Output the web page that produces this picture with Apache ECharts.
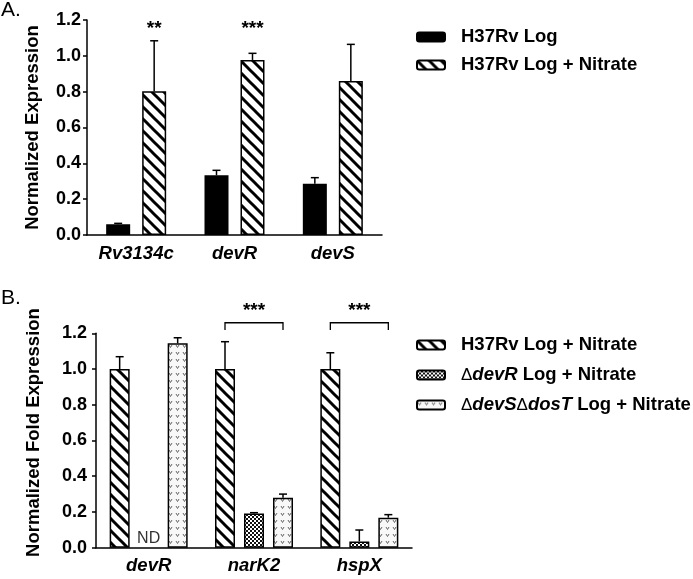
<!DOCTYPE html>
<html><head><meta charset="utf-8">
<script src="https://cdn.jsdelivr.net/npm/echarts@6/dist/echarts.min.js"></script>
<style>html,body{margin:0;padding:0;background:#fff}#c{width:693px;height:579px}</style>
</head><body><div id="c"></div>
<script>
// ---- Data ----
const catsA = ['Rv3134c', 'devR', 'devS'];
const logA = [0.06, 0.333, 0.286];
const logErrA = [0.065, 0.361, 0.32];
const nitA = [0.803, 0.977, 0.859];
const nitErrA = [1.084, 1.014, 1.064];
const sigA = ['**', '***', ''];

const catsB = ['devR', 'narK2', 'hspX'];
const wtB = [1.0, 1.0, 1.0];
const wtErrB = [1.069, 1.153, 1.091];
const devRB = [null, 0.192, 0.035];
const devRErrB = [null, 0.196, 0.099];
const devSdosTB = [1.144, 0.28, 0.168];
const devSdosTErrB = [1.175, 0.30, 0.185];
const sigB = ['', '***', '***'];

const FONT = '"Liberation Sans", Arial, sans-serif';

// ---- patterns ----
function mk(s){const c=document.createElement('canvas');c.width=s;c.height=s;return c;}
function hatch(){const s=12,c=mk(s),x=c.getContext('2d');x.fillStyle='#fff';x.fillRect(0,0,s,s);
  x.strokeStyle='#000';x.lineWidth=3;x.lineCap='square';
  for(const k of [-1,0,1]){x.beginPath();x.moveTo(k*s,0);x.lineTo(k*s+s,s);x.stroke();}
  return {image:c,repeat:'repeat'};}
function checker(){const s=4,c=mk(s),x=c.getContext('2d');x.fillStyle='#fff';x.fillRect(0,0,s,s);
  x.fillStyle='#111';x.fillRect(0,0,2,2);x.fillRect(2,2,2,2);return {image:c,repeat:'repeat'};}
function dots(){const s=7,c=mk(s),x=c.getContext('2d');x.fillStyle='#f8f8f8';x.fillRect(0,0,s,s);
  x.strokeStyle='#666';x.lineWidth=1;x.beginPath();x.moveTo(1,2);x.lineTo(2.5,4.5);x.lineTo(4,2);x.stroke();
  return {image:c,repeat:'repeat'};}
const HATCH=hatch(), CHECK=checker(), DOTS=dots();

const chart = echarts.init(document.getElementById('c'), null, {renderer:'canvas'});

function errSeries(name, gridIdx, vals, errs, offset){
  return {
    type:'custom', name:name+'_err', xAxisIndex:gridIdx, yAxisIndex:gridIdx, silent:true, z:5,
    data: vals.map((v,i)=> (v==null||errs[i]==null)? null : [i, v, errs[i]]).filter(d=>d),
    renderItem:(p,api)=>{
      const b=api.coord([api.value(0),api.value(1)]);
      const t=api.coord([api.value(0),api.value(2)]);
      const x=b[0]+offset;
      return {type:'group',children:[
        {type:'line',shape:{x1:x,y1:b[1],x2:x,y2:t[1]},style:{stroke:'#000',lineWidth:1.5}},
        {type:'line',shape:{x1:x-4,y1:t[1],x2:x+4,y2:t[1]},style:{stroke:'#000',lineWidth:1.5}}
      ]};
    }
  };
}

const axisLineStyle={lineStyle:{color:'#000',width:1.5}};
function yAxis(gridIdx, name, gap, margin, pad){
  return {type:'value', gridIndex:gridIdx, min:0, max:1.2, interval:0.2,
    name:name, nameLocation:'middle', nameGap:gap, nameRotate:90,
    nameTextStyle:{fontFamily:FONT, fontWeight:'bold', fontSize:18.5, color:'#000', padding:pad},
    axisLine:{show:true, ...axisLineStyle}, axisTick:{show:true,length:4,lineStyle:{color:'#000',width:1.5}},
    splitLine:{show:false},
    axisLabel:{margin:margin, fontFamily:FONT, fontWeight:'bold', fontSize:18, color:'#000',
      formatter:v=>v.toFixed(1)}};
}
function xAxis(gridIdx, cats){
  return {type:'category', gridIndex:gridIdx, data:cats,
    axisLine:{show:true,...axisLineStyle}, axisTick:{show:false},
    axisLabel:{margin:9, fontFamily:FONT, fontWeight:'bold', fontStyle:'italic', fontSize:18.5, color:'#000'}};
}

const sigStyle={fontFamily:FONT, fontWeight:'bold', fontSize:19, fill:'#000', align:'center', verticalAlign:'middle'};
const legendText={fontFamily:FONT, fontWeight:'bold', fontSize:18.5, color:'#000', lineHeight:20, padding:[0,0,0,11]};

const option = {
  animation:false,
  backgroundColor:'#fff',
  textStyle:{fontFamily:FONT},
  grid:[
    {left:87, right:311, top:20, bottom:344},
    {left:96, right:281, top:333.3, bottom:31.3}
  ],
  xAxis:[xAxis(0,catsA), xAxis(1,catsB)],
  yAxis:[yAxis(0,'Normalized Expression',45,6,[0,0,0,0]), yAxis(1,'Normalized Fold Expression',53,9,[0,0,0,16])],
  legend:[
    {left:411, top:22, orient:'vertical', itemWidth:28, itemHeight:9, itemGap:8,
      data:['H37Rv Log','H37Rv Log + Nitrate'], selectedMode:false, textStyle:legendText},
    {left:411, top:330, orient:'vertical', itemWidth:28, itemHeight:9, itemGap:10,
      data:['H37Rv Log + Nitrate ','ΔdevR Log + Nitrate','ΔdevSΔdosT Log + Nitrate'], selectedMode:false,
      formatter:n=>{
        if(n==='ΔdevR Log + Nitrate') return '{d|Δ}{i|devR} Log + Nitrate';
        if(n==='ΔdevSΔdosT Log + Nitrate') return '{d|Δ}{i|devS}{d|Δ}{i|dosT} Log + Nitrate';
        return n;
      },
      textStyle:{...legendText,
        rich:{i:{fontFamily:FONT, fontWeight:'bold', fontStyle:'italic', fontSize:18.5, color:'#000'},
              d:{fontFamily:FONT, fontWeight:'normal', fontSize:17, color:'#000'}}}}
  ],
  series:[
    {type:'bar', name:'H37Rv Log', xAxisIndex:0, yAxisIndex:0, data:logA, barWidth:24, barGap:'50%',
      itemStyle:{color:'#000', borderColor:'#000', borderWidth:1.5}},
    {type:'bar', name:'H37Rv Log + Nitrate', xAxisIndex:0, yAxisIndex:0, data:nitA, barWidth:24, barGap:'50%',
      itemStyle:{color:HATCH, borderColor:'#000', borderWidth:1.5}},
    errSeries('A0',0,logA,logErrA,-18),
    errSeries('A1',0,nitA,nitErrA,18),
    {type:'custom', name:'sigA', xAxisIndex:0, yAxisIndex:0, silent:true,
      data:sigA.map((s,i)=>[i,1.15,s]).filter(d=>d[2]),
      renderItem:(p,api)=>{const c=api.coord([api.value(0),api.value(1)]);
        return {type:'text',x:c[0]+18,y:c[1],style:{...sigStyle,text:sigA[api.value(0)]}};}},

    {type:'bar', name:'H37Rv Log + Nitrate ', xAxisIndex:1, yAxisIndex:1, data:wtB, barWidth:20, barGap:'45%',
      itemStyle:{color:HATCH, borderColor:'#000', borderWidth:1.5}},
    {type:'bar', name:'ΔdevR Log + Nitrate', xAxisIndex:1, yAxisIndex:1, barWidth:20, barGap:'45%',
      data:devRB.map(v=> v==null ? {value:0, itemStyle:{color:'transparent',borderWidth:0},
        label:{show:true, formatter:'ND', position:'top', distance:1, fontFamily:FONT, fontSize:16, color:'#333'}} : v),
      itemStyle:{color:CHECK, borderColor:'#000', borderWidth:1.5}},
    {type:'bar', name:'ΔdevSΔdosT Log + Nitrate', xAxisIndex:1, yAxisIndex:1, data:devSdosTB, barWidth:20, barGap:'45%',
      itemStyle:{color:DOTS, borderColor:'#000', borderWidth:1.5}},
    errSeries('B0',1,wtB,wtErrB,-29),
    errSeries('B1',1,devRB,devRErrB,0),
    errSeries('B2',1,devSdosTB,devSdosTErrB,29),
    {type:'custom', name:'sigB', xAxisIndex:1, yAxisIndex:1, silent:true,
      data:sigB.map((s,i)=>[i,1.218,1.259,1.325,s]).filter(d=>d[4]),
      renderItem:(p,api)=>{
        const lo=api.coord([api.value(0),api.value(1)]);
        const hi=api.coord([api.value(0),api.value(2)]);
        const tx=api.coord([api.value(0),api.value(3)]);
        const x1=lo[0]-29, x2=lo[0]+29;
        return {type:'group',children:[
          {type:'polyline',shape:{points:[[x1,lo[1]],[x1,hi[1]],[x2,hi[1]],[x2,lo[1]]]},style:{stroke:'#000',lineWidth:1.3,fill:null}},
          {type:'text',x:lo[0],y:tx[1],style:{...sigStyle,text:sigB[api.value(0)]}}
        ]};
      }}
  ],
  graphic:[
    {type:'text', left:1, top:0, style:{text:'A.', fontFamily:FONT, fontSize:21, fill:'#000'}},
    {type:'text', left:1, top:288, style:{text:'B.', fontFamily:FONT, fontSize:21, fill:'#000'}}
  ]
};
chart.setOption(option);
</script>
</body></html>
